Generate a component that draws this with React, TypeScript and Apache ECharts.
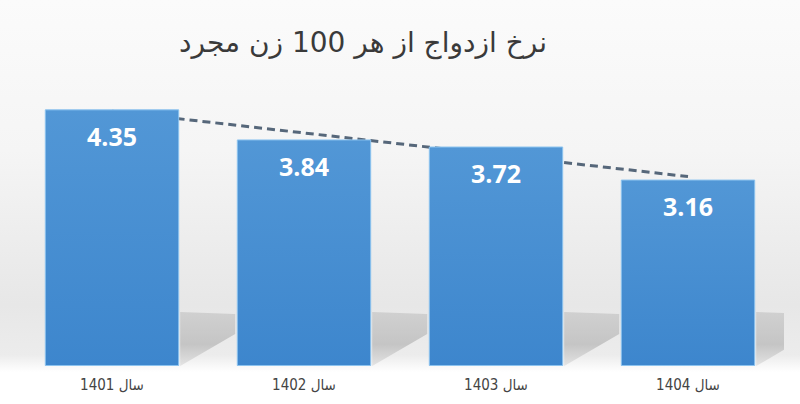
import { useEffect, useRef } from 'react';

import * as echarts from 'echarts';

// داده‌های نمودار
const categories = ['سال 1401', 'سال 1402', 'سال 1403', 'سال 1404'];
const rates = [4.35, 3.84, 3.72, 3.16];
// خط روند (مقادیر خوانده‌شده از تصویر در ابتدا و انتها)
const trendValues = [4.32, null, null, 3.21];
const titleText = 'نرخ ازدواج از هر 100 زن مجرد';

const App = () => {
    const chartRef = useRef<HTMLDivElement | null>(null);

    useEffect(() => {
        document.body.style.margin = '0';
        const chartDom = chartRef.current!;
        const myChart = echarts.init(chartDom, null, { renderer: 'svg' });

        const option: echarts.EChartsOption = {
            animation: false,
            grid: { left: 16, right: 16, top: 71, bottom: 38 },
            graphic: [
                {
                    type: 'text',
                    x: 363,
                    y: 42,
                    style: {
                        text: titleText,
                        align: 'center',
                        verticalAlign: 'middle',
                        fill: '#3a3a3a',
                        font: '28px "DejaVu Sans", sans-serif',
                    },
                },
            ],
            xAxis: {
                type: 'category',
                data: categories,
                axisLine: { show: false },
                axisTick: { show: false },
                axisLabel: {
                    margin: 11,
                    color: '#444',
                    fontSize: 15,
                    fontFamily: '"DejaVu Sans Condensed", "DejaVu Sans", sans-serif',
                },
            },
            yAxis: {
                type: 'value',
                min: 0,
                max: 5,
                show: false,
                splitLine: { show: false },
            },
            series: [
                {
                    // سایه کنار ستون‌ها
                    type: 'custom',
                    clip: true,
                    z: 0,
                    data: rates.map((v, i) => [i, v]),
                    encode: { x: 0, y: 1 },
                    renderItem: (params: any, api: any) => {
                        const base = api.coord([api.value(0), 0]);
                        const band = api.size([1, 0])[0];
                        const right = base[0] + band * 0.35 + 1;
                        const y = base[1];
                        return {
                            type: 'polygon',
                            shape: {
                                points: [
                                    [right, y],
                                    [right, y - 54],
                                    [right + 55, y - 52],
                                    [right + 55, y - 32],
                                ],
                            },
                            style: {
                                fill: new echarts.graphic.LinearGradient(0, 0, 0, 1, [
                                    { offset: 0, color: 'rgba(200,200,200,0.75)' },
                                    { offset: 0.6, color: 'rgba(190,190,190,0.85)' },
                                    { offset: 1, color: 'rgba(215,215,215,0.6)' },
                                ]),
                            },
                        };
                    },
                },
                {
                    type: 'line',
                    data: trendValues,
                    connectNulls: true,
                    symbol: 'none',
                    z: 1,
                    lineStyle: { color: '#56677a', width: 3, type: [8, 5] },
                },
                {
                    type: 'bar',
                    data: rates,
                    barWidth: '70%',
                    z: 3,
                    itemStyle: {
                        color: new echarts.graphic.LinearGradient(0, 0, 0, 1, [
                            { offset: 0, color: '#5297d6' },
                            { offset: 1, color: '#3d86cd' },
                        ]),
                        borderColor: '#8cc3ef',
                        borderWidth: 1,
                    },
                    label: {
                        show: true,
                        position: 'insideTop',
                        distance: 14,
                        color: '#ffffff',
                        fontSize: 25,
                        fontWeight: 'bold',
                        fontFamily: '"Open Sans", sans-serif',
                    },
                },
            ],
        };

        myChart.setOption(option);

        return () => {
            myChart.dispose();
        };
    }, []);

    return (
        <div
            ref={chartRef}
            style={{
                width: 800,
                height: 404,
                background:
                    'linear-gradient(to bottom, #fbfbfb 0px, #f5f5f5 150px, #e7e7e7 305px, #ececec 355px, #ffffff 372px, #ffffff 404px)',
            }}
        />
    );
};

export default App;
